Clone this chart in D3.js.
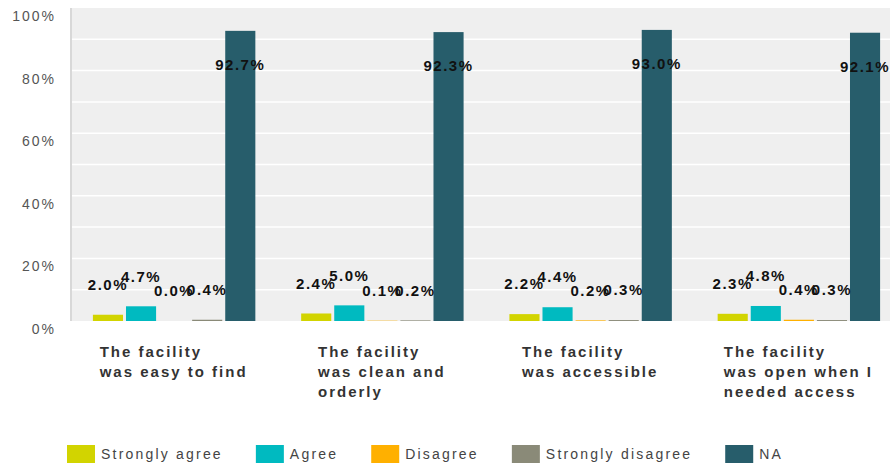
<!DOCTYPE html>
<html lang="en">
<head>
<meta charset="UTF-8" />
<title>Facility ratings</title>
<script src="https://d3js.org/d3.v7.min.js"></script>
<style>
  body { margin: 0; background: #fff; }
  text { font-family: "Liberation Sans", Arial, sans-serif; }
</style>
</head>
<body>
<svg id="chart" width="890" height="464"></svg>
<script>
// categories (one entry per tick label line)
var categories = ["easy", "clean", "accessible", "open"];
var categoryLines = [
  ["The facility", "was easy to find"],
  ["The facility", "was clean and", "orderly"],
  ["The facility", "was accessible"],
  ["The facility", "was open when I", "needed access"]
];

var seriesNames = ["Strongly agree", "Agree", "Disagree", "Strongly disagree", "NA"];
var seriesColors = ["#d2d400", "#00bac0", "#ffb000", "#8a8a78", "#275d6b"];

// values in %
var stronglyAgree    = [2.0, 2.4, 2.2, 2.3];
var agree            = [4.7, 5.0, 4.4, 4.8];
var disagree         = [0.0, 0.1, 0.2, 0.4];
var stronglyDisagree = [0.4, 0.2, 0.3, 0.3];
var notApplicable    = [92.7, 92.3, 93.0, 92.1];

var yTicks = [0, 20, 40, 60, 80, 100];
var gridTicks = [10, 20, 30, 40, 50, 60, 70, 80, 90];

var seriesValues = [stronglyAgree, agree, disagree, stronglyDisagree, notApplicable];

var svg = d3.select("#chart");

var plotLeft = 70, plotTop = 8, plotBottom = 321;

var y = d3.scaleLinear().domain([0, 100]).range([plotBottom, plotTop]);

var x0 = d3.scaleBand()
  .domain(categories)
  .range([plotLeft, 903])
  .paddingInner(0.22)
  .paddingOuter(0.11);

var x1 = d3.scaleBand()
  .domain(seriesNames)
  .range([0, x0.bandwidth()])
  .paddingInner(0.09);

var color = d3.scaleOrdinal().domain(seriesNames).range(seriesColors);

// plot background
svg.append("rect")
  .attr("x", plotLeft).attr("y", plotTop)
  .attr("width", 890 - plotLeft).attr("height", plotBottom - plotTop)
  .attr("fill", "#efefef");

// gridlines
svg.append("g").selectAll("line")
  .data(gridTicks)
  .enter().append("line")
  .attr("x1", plotLeft).attr("x2", 890)
  .attr("y1", function(d){ return y(d); })
  .attr("y2", function(d){ return y(d); })
  .attr("stroke", "#ffffff")
  .attr("stroke-width", 1.5);

// y axis line
svg.append("line")
  .attr("x1", plotLeft + 1).attr("x2", plotLeft + 1)
  .attr("y1", plotTop).attr("y2", plotBottom)
  .attr("stroke", "#d8d8d8")
  .attr("stroke-width", 2);

// y tick labels
svg.append("g").selectAll("text")
  .data(yTicks)
  .enter().append("text")
  .attr("x", 56)
  .attr("y", function(d){ return y(d) + 8; })
  .attr("dy", "0.35em")
  .attr("text-anchor", "end")
  .style("font-size", "14px")
  .style("letter-spacing", "2px")
  .attr("fill", "#555")
  .text(function(d){ return d + "%"; });

// flatten to bar records
var bars = [];
categories.forEach(function(c, i) {
  seriesNames.forEach(function(s, j) {
    bars.push({ cat: c, series: s, value: seriesValues[j][i] });
  });
});

var groups = svg.append("g");

groups.selectAll("rect")
  .data(bars)
  .enter().append("rect")
  .attr("x", function(d){ return x0(d.cat) + x1(d.series); })
  .attr("y", function(d){ return y(d.value); })
  .attr("width", x1.bandwidth())
  .attr("height", function(d){ return plotBottom - y(d.value); })
  .attr("fill", function(d){ return color(d.series); });

// value labels
groups.selectAll("text")
  .data(bars)
  .enter().append("text")
  .attr("x", function(d){ return x0(d.cat) + x1(d.series) + x1.bandwidth() / 2; })
  .attr("y", function(d){
    var yy = y(d.value) - 30;
    return yy < 20 ? y(d.value) + 34 : yy;
  })
  .attr("dy", "0.35em")
  .attr("text-anchor", "middle")
  .style("font-size", "15px")
  .style("font-weight", "bold")
  .style("letter-spacing", "1.5px")
  .attr("fill", "#111")
  .text(function(d){ return d.value.toFixed(1) + "%"; });

// category labels: left-aligned block centred under each group
categories.forEach(function(c, i) {
  var g = svg.append("g");
  var t = g.append("text")
    .style("font-size", "15px")
    .style("font-weight", "bold")
    .style("letter-spacing", "2px")
    .attr("fill", "#333");
  categoryLines[i].forEach(function(line, k) {
    t.append("tspan")
      .attr("x", 0)
      .attr("y", 357 + k * 20)
      .text(line);
  });
  var w = t.node().getBBox().width;
  var cx = x0(c) + x0.bandwidth() / 2;
  g.attr("transform", "translate(" + (cx - w / 2) + ",0)");
});

// legend
var legend = svg.append("g");
var lx = 67;
seriesNames.forEach(function(s) {
  legend.append("rect")
    .attr("x", lx).attr("y", 445)
    .attr("width", 28).attr("height", 18)
    .attr("fill", color(s));
  var t = legend.append("text")
    .attr("x", lx + 34).attr("y", 454)
    .attr("dy", "0.35em")
    .style("font-size", "14px")
    .style("letter-spacing", "2.2px")
    .attr("fill", "#444")
    .text(s);
  lx += 34 + t.node().getComputedTextLength() + 33;
});
</script>
</body>
</html>
